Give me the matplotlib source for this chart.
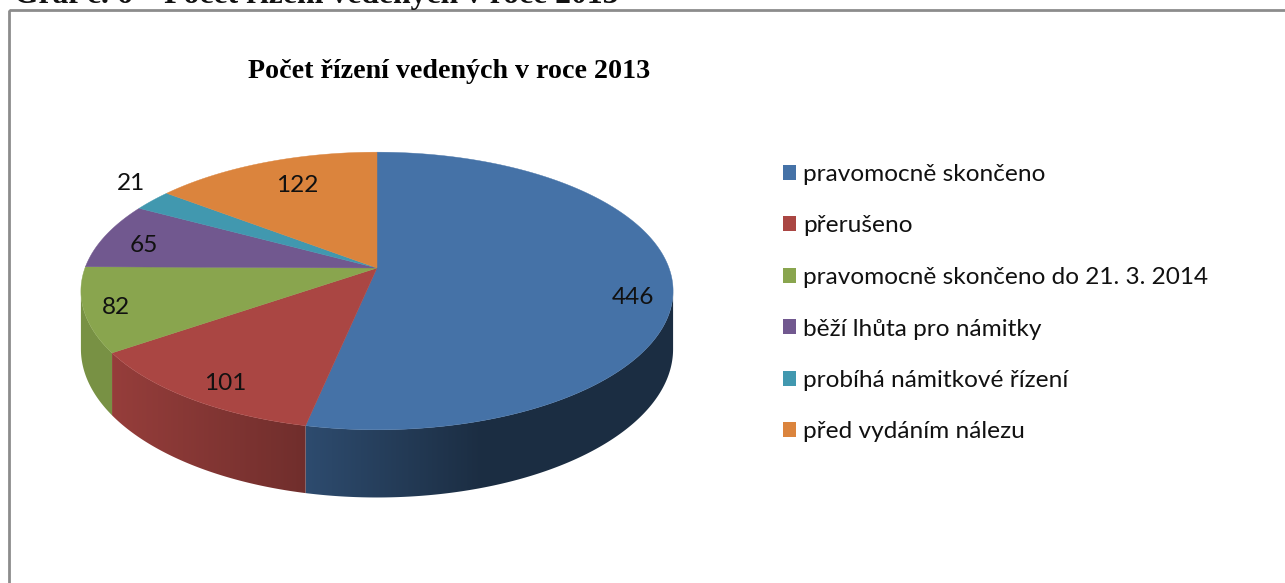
import numpy as np
import matplotlib
matplotlib.use("Agg")
import matplotlib.pyplot as plt
from matplotlib.patches import Patch, Rectangle, Polygon
from matplotlib.colors import to_rgb

# --- data ---
categories = ["pravomocně skončeno", "přerušeno", "pravomocně skončeno do 21. 3. 2014",
              "běží lhůta pro námitky", "probíhá námitkové řízení", "před vydáním nálezu"]
values = [446, 101, 82, 65, 21, 122]
colors = ["#4572A7", "#AA4643", "#89A54E", "#71588F", "#4198AF", "#DB843D"]
chart_title = "Počet řízení vedených v roce 2013"
page_caption = "Graf č. 6 – Počet řízení vedených v roce 2013"

# --- layout (pixel space) ---
W, H = 1285, 583
CX, CY = 377, 268
R, A, K, D = 292.0, 135.0, 0.1655, 56.5
label_xy = [(633, 298), (225, 383), (116, 308), (144, 245), (131, 183), (297, 186)]
FONT = "Lato"
FS = 17.6


def project(theta_deg, depth=0.0):
    t = np.radians(theta_deg)
    s, c = np.sin(t), np.cos(t)
    w = 1 + K * c
    return CX + R * s / w, CY - A * c / w + depth / w


def shade(x):
    return np.interp(x, [88, 113, 306, 480, 700], [0.88, 0.88, 0.66, 0.40, 0.40])


fig = plt.figure(figsize=(W / 100, H / 100), dpi=100, facecolor="white")
ax = fig.add_axes([0, 0, 1, 1])
ax.axis("off")

# frame and caption (the caption sits partly above the page edge, as in the source)
ax.add_patch(Rectangle((9, 10), W + 20, H + 20, fill=False, ec="#8c8c8c", lw=2))
ax.text(14, 3, page_caption, family="Liberation Serif", weight="bold", fontsize=22.75,
        color="#111111", ha="left", va="baseline")
ax.text(449, 72, chart_title, family="Liberation Serif", weight="bold", fontsize=20.2,
        color="black", ha="center", va="center")

# pie geometry from the values
edges = np.concatenate([[0], np.cumsum(values)]) / np.sum(values) * 360.0
th_min = np.degrees(np.arccos(-K))
th_max = 360 - th_min

# side wall: horizontal gradient image clipped to each slice's wall outline
for i, col in enumerate(colors):
    a, b = max(edges[i], th_min), min(edges[i + 1], th_max)
    if b <= a:
        continue
    ths = np.linspace(a, b, 200)
    xt, yt = project(ths)
    xb, yb = project(ths, D)
    xs = np.r_[xt, xb[::-1]]
    ys = np.r_[yt, yb[::-1]]
    x_lo, x_hi = xs.min() - 1, xs.max() + 1
    grid = np.linspace(x_lo, x_hi, 256)
    img = (np.array(to_rgb(col))[None, :] * shade(grid)[:, None])[None, :, :]
    im = ax.imshow(img, extent=(x_lo, x_hi, ys.max() + 1, ys.min() - 1), aspect="auto",
                   interpolation="bilinear", zorder=1)
    clip = Polygon(np.c_[xs, ys], closed=True, transform=ax.transData)
    im.set_clip_path(clip)

# top face
for i, col in enumerate(colors):
    ths = np.linspace(edges[i], edges[i + 1], 200)
    xs, ys = project(ths)
    ax.fill(np.r_[CX, xs], np.r_[CY, ys], color=col, lw=0.3, zorder=2)

# value labels
for v, (x, y) in zip(values, label_xy):
    ax.text(x, y, str(v), family=FONT, fontsize=FS, color="#111111",
            ha="center", va="center", zorder=3)

ax.set_xlim(0, W)
ax.set_ylim(H, 0)

# legend
handles = [Patch(facecolor=c, edgecolor="none") for c in colors]
px = FS * 100 / 72
leg = ax.legend(handles, categories, loc="upper left", bbox_to_anchor=(783 / W, 1 - 164 / H),
                frameon=False, prop={"family": FONT, "size": FS},
                handlelength=13.5 / px, handleheight=13.5 / px, handletextpad=7 / px,
                labelspacing=(52.5 - 22.0) / px, borderpad=0, borderaxespad=0)
for t in leg.get_texts():
    t.set_color("#111111")

fig.savefig("out.png", dpi=100, facecolor="white")
